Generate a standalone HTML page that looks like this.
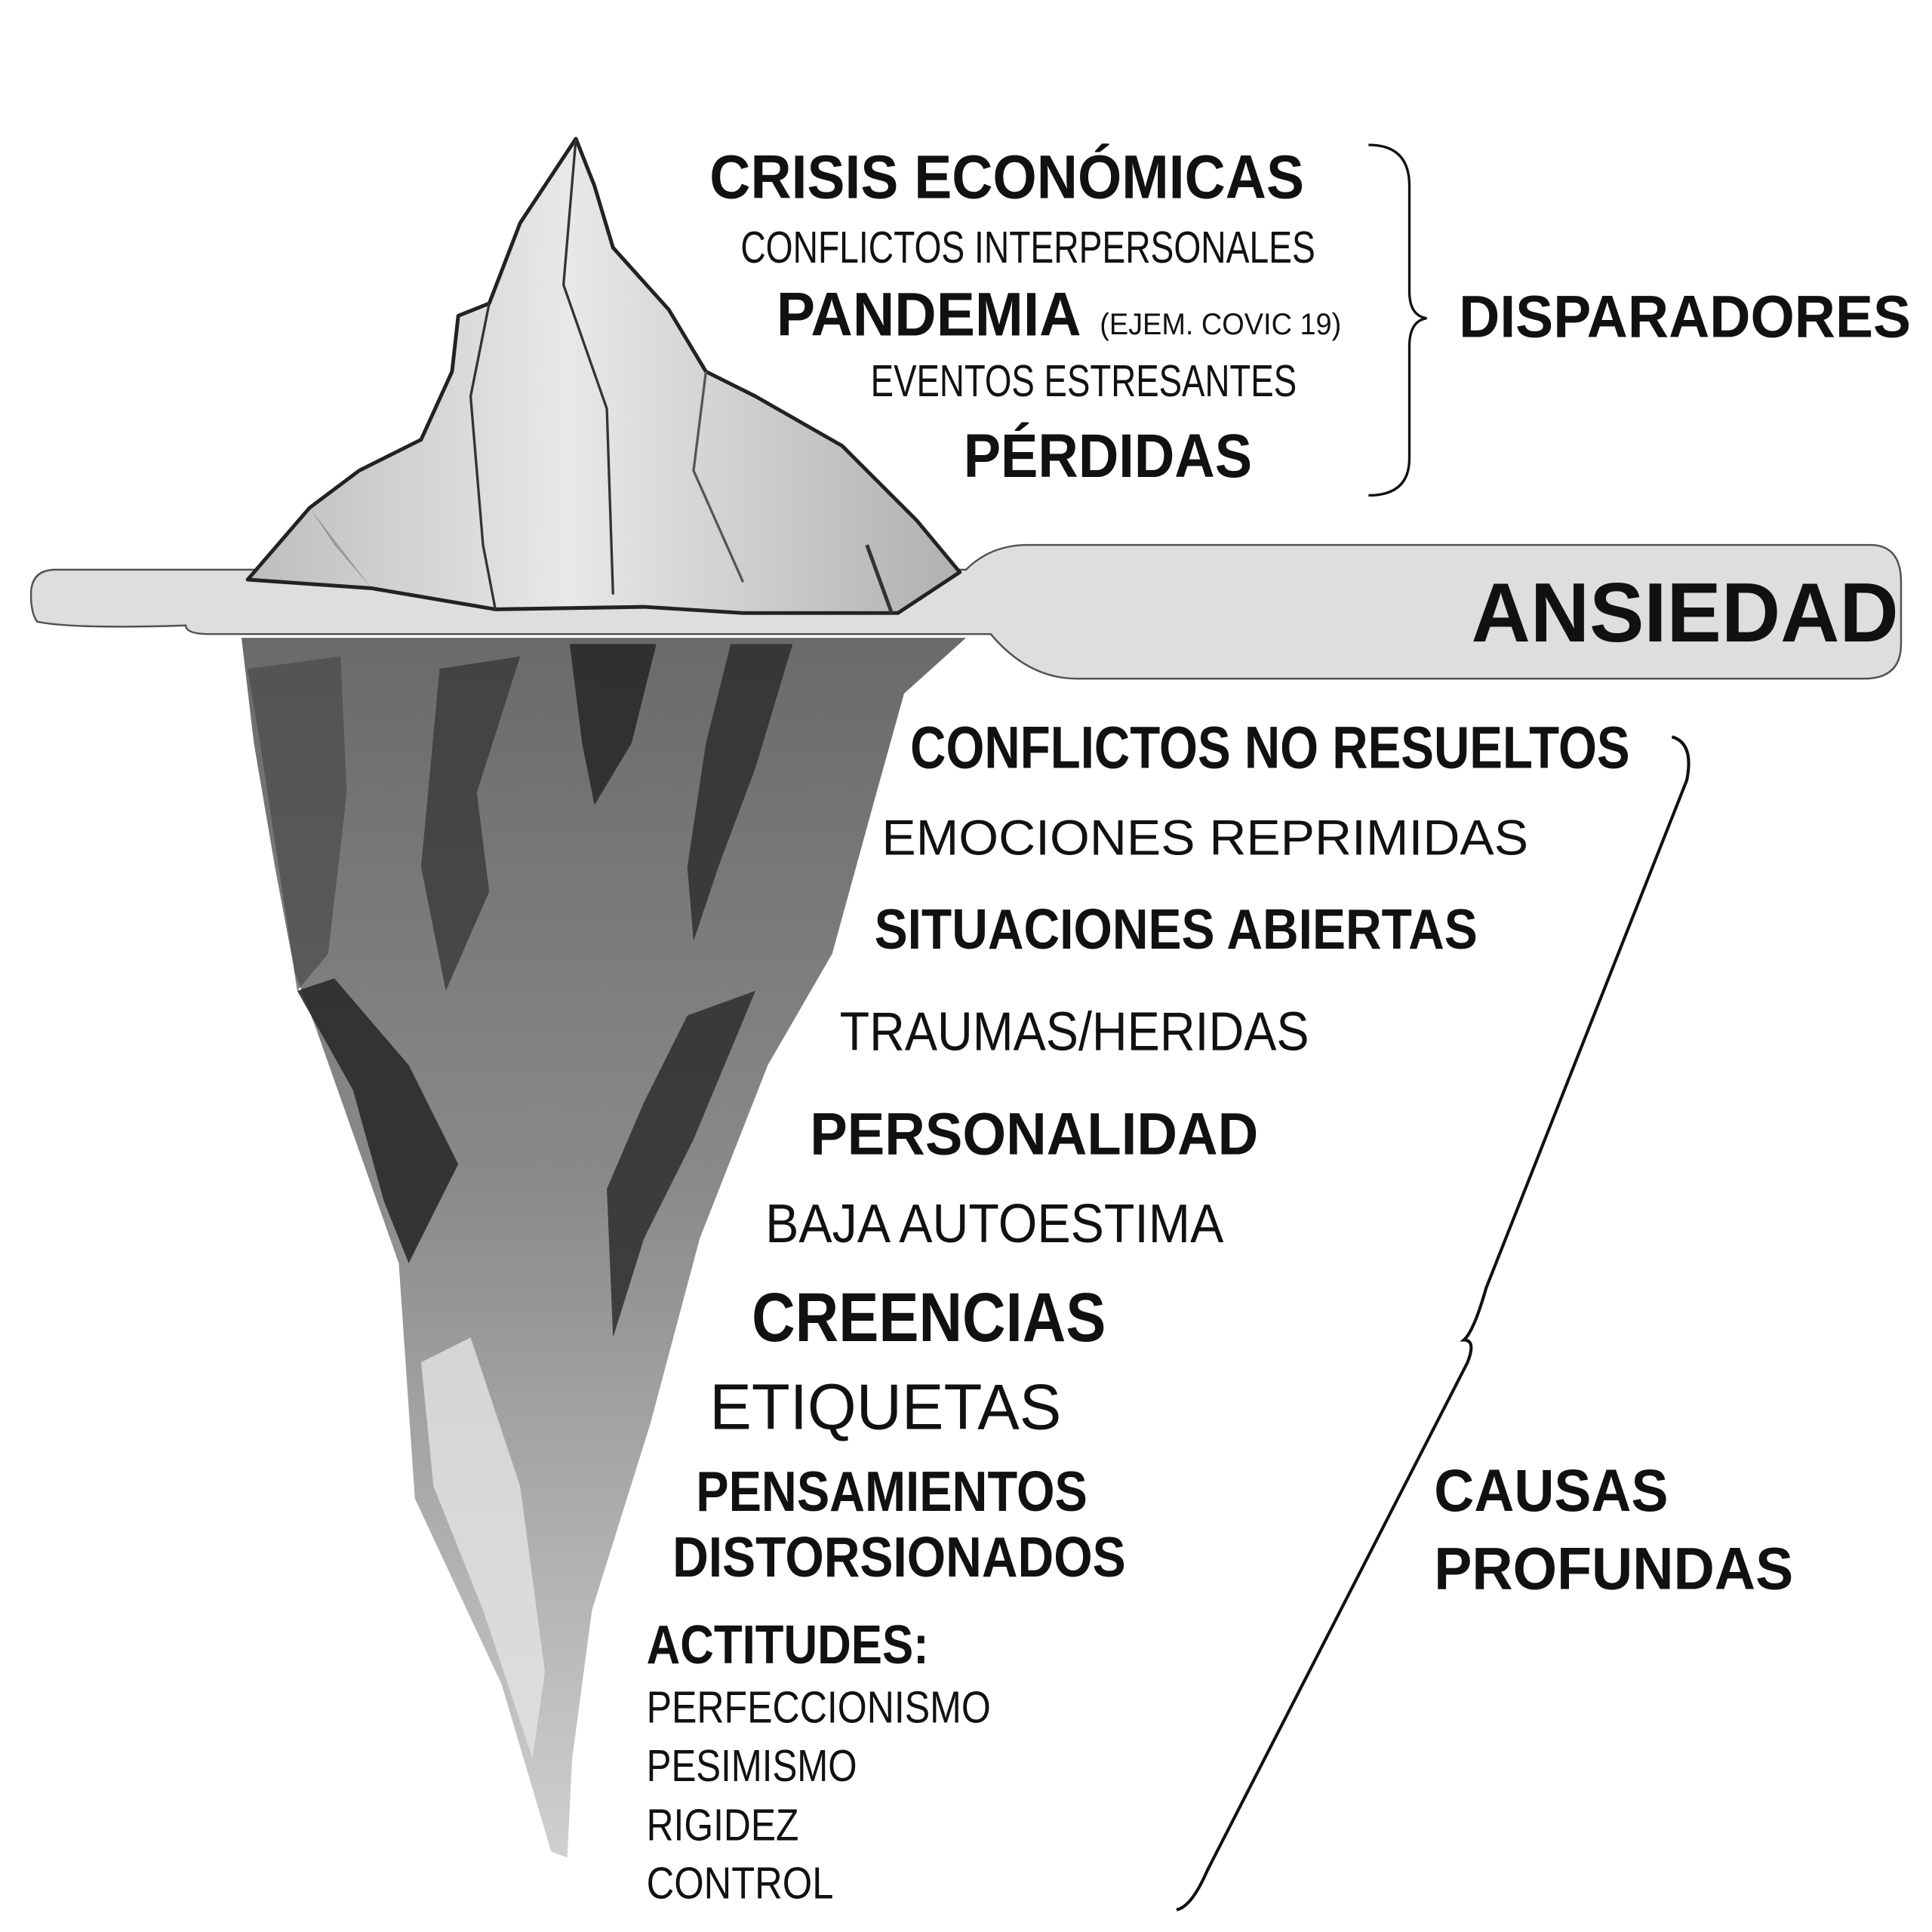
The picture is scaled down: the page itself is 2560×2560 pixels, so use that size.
<!DOCTYPE html>
<html><head><meta charset="utf-8"><style>
html,body{margin:0;padding:0;background:#fff;}
svg{display:block;}
text{font-family:"Liberation Sans",sans-serif;fill:#111;}
.b{font-weight:bold;}
</style></head><body>
<svg width="2560" height="2560" viewBox="0 0 1560 1560" xmlns="http://www.w3.org/2000/svg">
<defs>
<linearGradient id="under" x1="0" y1="0" x2="0" y2="1">
<stop offset="0" stop-color="#6a6a6a"/><stop offset="0.45" stop-color="#8a8a8a"/><stop offset="1" stop-color="#d0d0d0"/>
</linearGradient>
<linearGradient id="top" x1="0" y1="0" x2="1" y2="0">
<stop offset="0" stop-color="#bdbdbd"/><stop offset="0.45" stop-color="#e8e8e8"/><stop offset="1" stop-color="#b0b0b0"/>
</linearGradient>
</defs>
<!-- underwater iceberg -->
<path d="M195,515 L780,515 L730,560 L705,650 L672,770 L620,860 L565,1000 L525,1150 L478,1300 L462,1420 L458,1500 L445,1495 L405,1360 L335,1210 L322,1020 L255,830 L238,785 L222,700 L205,600 Z" fill="url(#under)"/>
<path d="M200,540 L275,530 L280,640 L265,770 L240,800 L225,700 L210,600 Z" fill="#4a4a4a" opacity="0.7"/>
<path d="M355,540 L420,530 L385,640 L395,720 L360,800 L340,700 Z" fill="#3a3a3a" opacity="0.8"/>
<path d="M460,520 L530,520 L510,600 L480,650 L470,600 Z" fill="#222" opacity="0.8"/>
<path d="M590,520 L640,520 L610,620 L580,700 L560,760 L555,700 L570,600 Z" fill="#2a2a2a" opacity="0.8"/>
<path d="M240,800 L270,790 L330,860 L370,940 L330,1020 L310,970 L285,880 Z" fill="#2a2a2a" opacity="0.9"/>
<path d="M555,820 L610,800 L560,920 L520,1000 L495,1080 L490,960 L520,890 Z" fill="#2e2e2e" opacity="0.85"/>
<path d="M340,1100 L380,1080 L420,1200 L440,1350 L430,1420 L390,1300 L350,1200 Z" fill="#e4e4e4" opacity="0.8"/>
<!-- water band -->
<path d="M25,480 Q25,460 45,460 L780,460 Q800,440 830,440 L1510,440 Q1535,440 1535,470 L1535,520 Q1535,548 1505,548 L870,548 Q830,548 800,512 L170,512 Q150,512 150,505 Q60,508 30,502 Q25,495 25,480 Z" fill="#dcdcdc" stroke="#444" stroke-width="1.5" opacity="0.92"/>
<!-- top iceberg -->
<path d="M200,468 L250,410 L290,380 L340,355 L365,300 L370,255 L395,245 L420,180 L465,112 L480,150 L495,200 L540,250 L570,300 L610,320 L680,360 L740,420 L775,462 L725,495 L600,495 L520,490 L400,492 L300,475 Z" fill="url(#top)" stroke="#222" stroke-width="3" stroke-linejoin="round"/>
<path d="M395,245 L380,320 L390,440 L400,492" fill="none" stroke="#333" stroke-width="2"/>
<path d="M465,112 L455,230 L490,330 L495,480" fill="none" stroke="#333" stroke-width="2"/>
<path d="M570,300 L560,380 L600,470" fill="none" stroke="#555" stroke-width="2"/>
<path d="M700,440 L720,495" fill="none" stroke="#333" stroke-width="3"/>
<path d="M250,410 L270,440 L300,475" fill="#999" stroke="none"/>
<!-- top texts -->
<text class="b" x="573" y="160" font-size="50" textLength="480" lengthAdjust="spacingAndGlyphs">CRISIS ECONÓMICAS</text>
<text x="598" y="212" font-size="36" textLength="464" lengthAdjust="spacingAndGlyphs">CONFLICTOS INTERPERSONALES</text>
<text class="b" x="627" y="271" font-size="50" textLength="246" lengthAdjust="spacingAndGlyphs">PANDEMIA</text>
<text x="888" y="270" font-size="24" textLength="195" lengthAdjust="spacingAndGlyphs">(EJEM. COVIC 19)</text>
<text x="703" y="320" font-size="36" textLength="344" lengthAdjust="spacingAndGlyphs">EVENTOS ESTRESANTES</text>
<text class="b" x="778" y="385" font-size="50" textLength="233" lengthAdjust="spacingAndGlyphs">PÉRDIDAS</text>
<path d="M1105,117 Q1138,117 1138,150 L1138,235 Q1138,255 1152,257 Q1138,259 1138,280 L1138,370 Q1138,400 1105,400" fill="none" stroke="#111" stroke-width="2"/>
<text class="b" x="1178" y="272" font-size="48" textLength="365" lengthAdjust="spacingAndGlyphs">DISPARADORES</text>
<text class="b" x="1188" y="518" font-size="68" textLength="345" lengthAdjust="spacingAndGlyphs">ANSIEDAD</text>
<!-- bottom texts -->
<text class="b" x="735" y="620" font-size="48" textLength="581" lengthAdjust="spacingAndGlyphs">CONFLICTOS NO RESUELTOS</text>
<text x="712" y="690" font-size="40" textLength="522" lengthAdjust="spacingAndGlyphs">EMOCIONES REPRIMIDAS</text>
<text class="b" x="706" y="766" font-size="46" textLength="487" lengthAdjust="spacingAndGlyphs">SITUACIONES ABIERTAS</text>
<text x="678" y="848" font-size="44" textLength="379" lengthAdjust="spacingAndGlyphs">TRAUMAS/HERIDAS</text>
<text class="b" x="654" y="932" font-size="48" textLength="362" lengthAdjust="spacingAndGlyphs">PERSONALIDAD</text>
<text x="618" y="1003" font-size="44" textLength="370" lengthAdjust="spacingAndGlyphs">BAJA AUTOESTIMA</text>
<text class="b" x="607" y="1083" font-size="56" textLength="286" lengthAdjust="spacingAndGlyphs">CREENCIAS</text>
<text x="573" y="1154" font-size="52" textLength="284" lengthAdjust="spacingAndGlyphs">ETIQUETAS</text>
<text class="b" x="562" y="1220" font-size="46" textLength="316" lengthAdjust="spacingAndGlyphs">PENSAMIENTOS</text>
<text class="b" x="543" y="1273" font-size="46" textLength="366" lengthAdjust="spacingAndGlyphs">DISTORSIONADOS</text>
<text class="b" x="522" y="1343" font-size="44" textLength="228" lengthAdjust="spacingAndGlyphs">ACTITUDES:</text>
<text x="522" y="1391" font-size="36" textLength="278" lengthAdjust="spacingAndGlyphs">PERFECCIONISMO</text>
<text x="522" y="1438" font-size="36" textLength="170" lengthAdjust="spacingAndGlyphs">PESIMISMO</text>
<text x="522" y="1486" font-size="36" textLength="123" lengthAdjust="spacingAndGlyphs">RIGIDEZ</text>
<text x="522" y="1533" font-size="36" textLength="151" lengthAdjust="spacingAndGlyphs">CONTROL</text>
<text class="b" x="1158" y="1220" font-size="48" textLength="189" lengthAdjust="spacingAndGlyphs">CAUSAS</text>
<text class="b" x="1158" y="1283" font-size="48" textLength="290" lengthAdjust="spacingAndGlyphs">PROFUNDAS</text>
<path d="M1350,595 Q1368,600 1362,630 L1200,1040 Q1190,1075 1182,1082 Q1192,1082 1185,1100 L975,1510 Q962,1540 950,1542" fill="none" stroke="#111" stroke-width="2.5"/>
</svg>
</body></html>
